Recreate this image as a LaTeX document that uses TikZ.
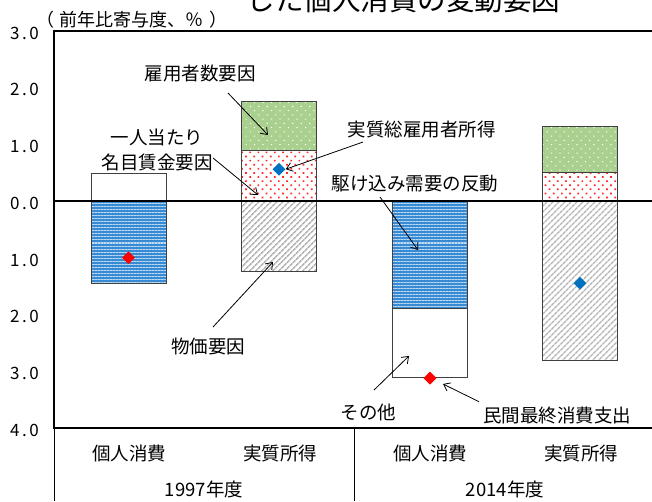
\documentclass[tikz,border=0pt]{standalone}
\usepackage{fontspec}
\setmainfont{Noto Sans CJK JP}
\usepackage{tikz}
\usetikzlibrary{arrows.meta,patterns.meta,shapes.geometric}

\definecolor{barblue}{RGB}{56,138,210}
\definecolor{stripeblue}{RGB}{188,218,244}
\definecolor{hatchgray}{RGB}{180,180,180}
\definecolor{dotred}{RGB}{255,40,40}
\definecolor{bargreen}{RGB}{169,208,142}
\definecolor{edgegray}{RGB}{64,64,64}
\definecolor{markred}{RGB}{255,0,0}
\definecolor{markblue}{RGB}{0,112,192}

\newcommand{\ticklbl}[2]{#1\kern2.5pt.\kern2.5pt#2}

\tikzset{
	seg/.style={draw=edgegray, line width=0.8pt},
	segwhite/.style={seg, fill=white},
	segblue/.style={seg, preaction={fill=barblue},
		pattern={Lines[angle=0,distance=3pt,line width=1pt]}, pattern color=stripeblue},
	seggray/.style={seg, preaction={fill=white},
		pattern={Lines[angle=45,distance=4pt,line width=1.6pt]}, pattern color=hatchgray},
	segred/.style={seg, preaction={fill=white},
		pattern={Dots[angle=45,distance=5.8pt,radius=1.2pt]}, pattern color=dotred},
	seggreen/.style={seg, preaction={fill=bargreen},
		pattern={Dots[angle=45,distance=6pt,radius=0.8pt]}, pattern color=white},
	markpt/.style={diamond, inner sep=0pt, minimum width=13pt, minimum height=13pt},
	pointer/.style={-{Straight Barb[length=6pt,width=9pt]}, line width=0.8pt},
	lbl/.style={font=\fontsize{18.5}{25}\selectfont, inner sep=0pt},
}

\begin{document}
\begin{tikzpicture}[x=1pt, y=56.76pt]

	% parameters
	\def\bw{75.5}
	\def\xl{54}
	\def\xr{652}
	\def\ybot{-5.2854}

	\useasboundingbox (0,\ybot) rectangle (\xr,3.5412);

	% bars
	\foreach \x/\lo/\hi/\st in {
		91/0/0.48/segwhite, 91/-1.46/0/segblue,
		241/-1.245/0/seggray, 241/0/0.90/segred, 241/0.90/1.75/seggreen,
		392/-1.90/0/segblue, 392/-3.11/-1.90/segwhite,
		542/-2.81/0/seggray, 542/0/0.51/segred, 542/0.51/1.32/seggreen} {
		\draw[\st] (\x,\lo) rectangle ({\x+\bw},\hi);
	}

	% frame
	\draw[line width=2pt] (\xr,3) -| (\xl,-4) -- (\xr,-4);
	\draw[line width=2pt] (\xl,0) -- (\xr,0);
	\draw[line width=0.8pt] (\xl,-4) -- (\xl,\ybot);
	\draw[line width=0.8pt] (354,-4) -- (354,\ybot);

	% y axis
	\foreach \v/\a/\b in {3/3/0, 2/2/0, 1/1/0, 0/0/0, -1/1/0, -2/2/0, -3/3/0, -4/4/0} {
		\node[anchor=east, inner sep=0pt, font=\fontsize{17}{17}\selectfont] (tick\a\b) at (39,\v-0.04) {\ticklbl{\a}{\b}};
	}
	\node[inner sep=0pt, font=\fontsize{18}{18}\selectfont] (ytitle) at (132,3.2) {（\kern6pt 前年比寄与度、％\kern6pt）};

	% title
	\node[anchor=base, inner sep=0pt, font=\fontsize{28.5}{28.5}\selectfont] (ttl) at (403.5,3.365) {した個人消費の変動要因};

	% markers
	\node[markpt, fill=markred] (mk1) at (128.5,-1.0) {};
	\node[markpt, fill=markblue] (mk2) at (279,0.56) {};
	\node[markpt, fill=markred] (mk3) at (430,-3.12) {};
	\node[markpt, fill=markblue] (mk4) at (580,-1.45) {};

	% labels
	\node[lbl] (lblemp) at (200,2.246) {雇用者数要因};
	\node[lbl, align=center] (lblwage) at (157,0.907) {一人当たり\\名目賃金要因};
	\node[lbl] (lbltotal) at (421.7,1.251) {実質総雇用者所得};
	\node[lbl] (lblrush) at (415,0.30) {駆け込み需要の反動};
	\node[lbl] (lblprice) at (208,-2.567) {物価要因};
	\node[lbl] (lblother) at (368.7,-3.717) {その他};
	\node[lbl] (lblpce) at (557,-3.782) {民間最終消費支出};

	% categories
	\node[lbl] (cat1) at (129,-4.44) {個人消費};
	\node[lbl] (cat2) at (280,-4.44) {実質所得};
	\node[lbl] (cat3) at (430,-4.44) {個人消費};
	\node[lbl] (cat4) at (581,-4.44) {実質所得};
	\node[lbl] (yr97) at (204,-5.074) {1997年度};
	\node[lbl] (yr14) at (505,-5.074) {2014年度};

	% arrow ends
	\coordinate (emp-s) at (228,1.903);
	\coordinate (emp-t) at (268,1.163);
	\coordinate (wage-s) at (213,0.758);
	\coordinate (wage-t) at (258,0.106);
	\coordinate (total-s) at (363,1.039);
	\coordinate (rush-s) at (380,0.07);
	\coordinate (rush-t) at (418,-0.863);
	\coordinate (price-s) at (213,-2.22);
	\coordinate (price-t) at (273,-1.075);
	\coordinate (other-s) at (374,-3.33);
	\coordinate (other-t) at (409,-2.73);
	\coordinate (pce-s) at (479,-3.536);
	\coordinate (pce-t) at (443,-3.224);

	% arrows
	\draw[pointer] (emp-s) -- (emp-t);
	\draw[pointer] (wage-s) -- (wage-t);
	\draw[pointer] (total-s) -- (mk2.east);
	\draw[pointer] (rush-s) -- (rush-t);
	\draw[pointer] (price-s) -- (price-t);
	\draw[pointer] (other-s) -- (other-t);
	\draw[pointer] (pce-s) -- (pce-t);

\end{tikzpicture}
\end{document}
